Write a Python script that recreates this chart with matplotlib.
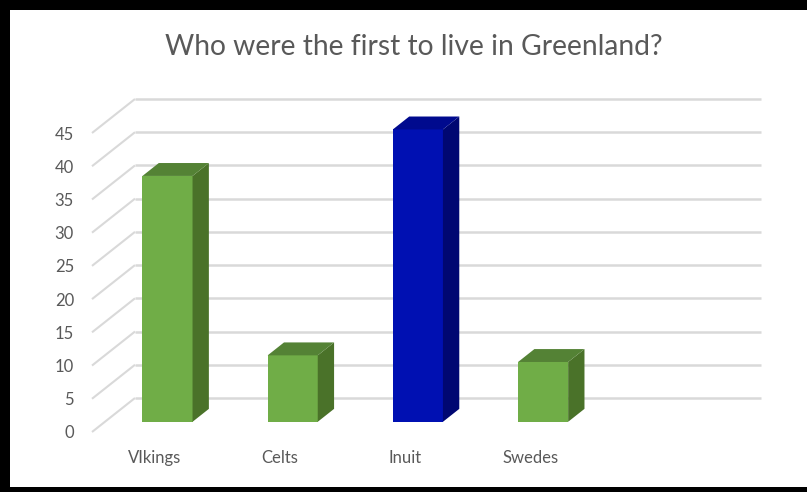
import matplotlib
matplotlib.use("Agg")
import matplotlib.pyplot as plt
from matplotlib.patches import Polygon, Rectangle

# ---- data -------------------------------------------------------------
categories = ["VIkings", "Celts", "Inuit", "Swedes"]
values = [37, 10, 44, 9]
front_colors = ["#70AD47", "#70AD47", "#0010B2", "#70AD47"]
side_colors = ["#4A7229", "#4A7229", "#000772", "#4A7229"]
top_colors = ["#548235", "#548235", "#000A8E", "#548235"]
y_ticks = list(range(0, 50, 5))
n_slots = 5  # category slots along the floor (last one left empty)

title = "Who were the first to live in Greenland?"

# ---- style ------------------------------------------------------------
W, H, DPI = 807, 492, 100
text_color = "#595959"
grid_color = "#D9D9D9"
font = ["Lato", "DejaVu Sans"]
plt.rcParams["font.family"] = font

# oblique depth vector (front plane -> back wall) in data units
DX, DY = 0.3434, 5.12
d_front, d_back = 0.30, 0.68   # bar depth span as fraction of full depth
bar_w = 0.40

fig = plt.figure(figsize=(W / DPI, H / DPI), dpi=DPI)
fig.patch.set_facecolor("white")

# axes spans the front plane of the 3-D box
x0, x1, y0, y1 = 92, 718, 432, 133
ax = fig.add_axes([x0 / W, (H - y0) / H, (x1 - x0) / W, (y0 - y1) / H])
ax.set_xlim(0, n_slots)
ax.set_ylim(0, 45)
ax.patch.set_alpha(0)
for s in ax.spines.values():
    s.set_visible(False)

# side-wall diagonals and back-wall gridlines
for v in y_ticks:
    ax.plot([0, DX], [v, v + DY], color=grid_color, lw=1.5,
            clip_on=False, zorder=1, solid_capstyle="butt")
    ax.plot([DX, n_slots + DX], [v + DY, v + DY], color=grid_color, lw=1.8,
            clip_on=False, zorder=1, solid_capstyle="butt")

# 3-D columns: front face via ax.bar, side and top faces as polygons
centers = [i + 0.5 for i in range(len(categories))]
fx = [c + d_front * DX for c in centers]
fy0 = d_front * DY
ax.bar(fx, values, width=bar_w, bottom=fy0, color=front_colors,
       edgecolor="none", zorder=3, clip_on=False)
ddx = (d_back - d_front) * DX
ddy = (d_back - d_front) * DY
for xc, v, sc, tc in zip(fx, values, side_colors, top_colors):
    xl, xr = xc - bar_w / 2, xc + bar_w / 2
    top = fy0 + v
    side = Polygon([(xr, fy0), (xr + ddx, fy0 + ddy), (xr + ddx, top + ddy), (xr, top)],
                   closed=True, facecolor=sc, edgecolor="none", zorder=3, clip_on=False)
    cap = Polygon([(xl, top), (xr, top), (xr + ddx, top + ddy), (xl + ddx, top + ddy)],
                  closed=True, facecolor=tc, edgecolor="none", zorder=3, clip_on=False)
    ax.add_patch(side)
    ax.add_patch(cap)

# axis labels
ax.set_yticks(y_ticks)
ax.set_yticklabels([str(t) for t in y_ticks])
ax.set_xticks(centers)
ax.set_xticklabels(categories)
ax.tick_params(axis="y", length=0, pad=13, labelsize=12, labelcolor=text_color)
ax.tick_params(axis="x", length=0, pad=13, labelsize=12, labelcolor=text_color)

fig.text(414 / W, 1 - 55 / H, title, ha="center", va="baseline",
         fontsize=20.3, color=text_color)

# black frame around the chart
for (rx, ry, rw, rh) in [(0, 0, 10, H), (0, 0, W, 10), (0, 487, W, 5)]:
    fig.add_artist(Rectangle((rx / W, 1 - (ry + rh) / H), rw / W, rh / H,
                             transform=fig.transFigure, facecolor="black",
                             edgecolor="none", zorder=10))

fig.savefig("out.png", dpi=DPI)
